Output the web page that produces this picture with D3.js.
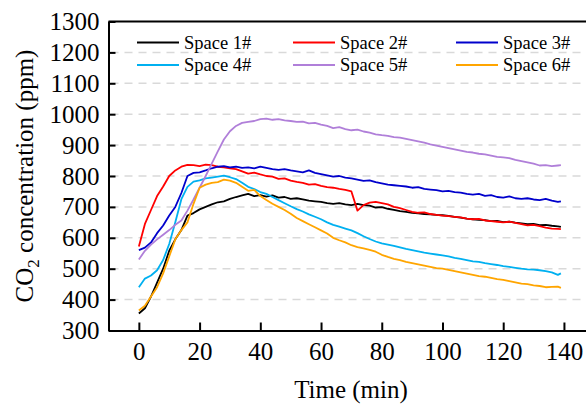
<!DOCTYPE html>
<html>
<head>
<meta charset="utf-8">
<script src="https://cdn.jsdelivr.net/npm/d3@7"></script>
<style>
  body { margin: 0; background: #fff; }
</style>
</head>
<body>
<div id="chart"></div>
<script>
// time axis (min)
const times = [0, 2, 4, 6, 8, 10, 12, 14, 16, 18, 20, 22, 24, 26, 28, 30, 32, 34, 36, 38,
  40, 42, 44, 46, 48, 50, 52, 54, 56, 58, 60, 62, 64, 66, 68, 70, 72, 74, 76, 78,
  80, 82, 84, 86, 88, 90, 92, 94, 96, 98, 100, 102, 104, 106, 108, 110, 112, 114, 116, 118,
  120, 122, 124, 126, 128, 130, 132, 134, 136, 138, 139];

const space1 = [355, 372, 410, 455, 500, 558, 595, 625, 672, 680, 692, 700, 708, 715, 718, 726, 732, 737, 742, 735,
  738, 733, 737, 730, 732, 726, 728, 724, 720, 718, 716, 712, 710, 712, 708, 706, 710, 706, 704, 698,
  699, 694, 690, 686, 684, 681, 679, 677, 676, 674, 673, 671, 668, 665, 662, 660, 658, 657, 654, 655,
  651, 652, 649, 647, 644, 645, 641, 642, 639, 637, 635];

const space2 = [572, 645, 690, 735, 766, 800, 818, 830, 836, 835, 832, 837, 835, 830, 828, 825, 822, 815, 808, 811,
  805, 800, 798, 791, 792, 785, 781, 778, 772, 774, 768, 764, 762, 758, 755, 750, 688, 706, 714, 716,
  712, 708, 700, 696, 690, 684, 681, 682, 677, 674, 672, 670, 668, 666, 662, 660, 661, 656, 654, 652,
  650, 652, 648, 644, 640, 642, 638, 633, 630, 629, 628];

const space3 = [560, 568, 585, 615, 640, 672, 700, 745, 800, 810, 812, 818, 825, 830, 832, 828, 830, 826, 828, 825,
  830, 826, 822, 820, 822, 818, 815, 812, 818, 810, 806, 802, 798, 800, 795, 792, 788, 784, 786, 780,
  776, 772, 770, 768, 766, 762, 764, 758, 756, 754, 750, 752, 748, 746, 742, 740, 742, 736, 738, 732,
  730, 734, 728, 726, 728, 724, 722, 726, 720, 716, 718];

const space4 = [440, 468, 478, 495, 528, 580, 650, 725, 765, 782, 786, 792, 795, 798, 801, 796, 790, 778, 765, 758,
  748, 742, 732, 722, 712, 702, 693, 685, 676, 668, 660, 650, 642, 636, 630, 624, 615, 605, 596, 588,
  582, 578, 574, 569, 564, 560, 556, 552, 549, 546, 543, 540, 535, 532, 528, 524, 522, 518, 515, 512,
  508, 506, 503, 500, 498, 497, 495, 492, 488, 480, 485];

const space5 = [530, 558, 578, 595, 610, 625, 642, 656, 688, 724, 762, 800, 840, 880, 918, 945, 962, 972, 975, 978,
  984, 986, 982, 984, 980, 978, 975, 976, 970, 972, 966, 962, 955, 958, 952, 948, 950, 944, 940, 935,
  932, 930, 926, 924, 920, 916, 912, 908, 902, 898, 894, 890, 886, 882, 878, 876, 872, 870, 866, 862,
  860, 858, 852, 848, 844, 840, 834, 835, 832, 834, 835];

const space6 = [365, 380, 410, 440, 485, 540, 595, 625, 650, 710, 762, 772, 778, 780, 788, 785, 778, 765, 752, 755,
  735, 722, 710, 700, 690, 678, 664, 654, 644, 634, 624, 614, 600, 592, 585, 576, 570, 566, 561, 555,
  545, 538, 532, 528, 522, 518, 514, 510, 506, 502, 500, 496, 492, 488, 484, 480, 476, 474, 470, 466,
  464, 460, 456, 452, 450, 446, 444, 440, 441, 442, 438];

const seriesNames = ["Space 1#", "Space 2#", "Space 3#", "Space 4#", "Space 5#", "Space 6#"];
const seriesColors = ["#000000", "#ff0000", "#0000cc", "#00b0f0", "#b07fd9", "#ffa500"];
const seriesValues = [space1, space2, space3, space4, space5, space6];

const xTicks = [0, 20, 40, 60, 80, 100, 120, 140];
const yTicks = [300, 400, 500, 600, 700, 800, 900, 1000, 1100, 1200, 1300];
const gridValues = [400, 500, 600, 700, 800, 900, 1000, 1100, 1200];

var width = 586;
var height = 407;
var serif = "Liberation Serif";

/* Scale */
var xScale = d3.scaleLinear().domain([-10, 150]).range([108.5, 594.3]);
var yScale = d3.scaleLinear().domain([300, 1300]).range([330.5, 21.5]);

const svg = d3.select("#chart")
  .append("svg")
  .attr("width", width)
  .attr("height", height);

/* grid */
svg.append("g")
  .selectAll("line")
  .data(gridValues)
  .enter()
  .append("line")
  .attr("x1", xScale(-10))
  .attr("x2", xScale(150))
  .attr("y1", d => yScale(d))
  .attr("y2", d => yScale(d))
  .attr("stroke", "#d9d9d9")
  .attr("stroke-width", 1.5)
  .attr("stroke-dasharray", "8,6")
  .attr("stroke-dashoffset", -16);

/* lines */
var line = d3.line()
  .x((d, i) => xScale(times[i]))
  .y(d => yScale(d));

svg.append("g")
  .attr("fill", "none")
  .selectAll("path")
  .data(seriesValues)
  .enter()
  .append("path")
  .attr("d", d => line(d))
  .attr("stroke", (d, i) => seriesColors[i])
  .attr("stroke-width", 1.8)
  .attr("stroke-linejoin", "round");

/* frame top + right */
svg.append("path")
  .attr("d", `M${xScale(-10)},${yScale(1300)}H${xScale(150)}V${yScale(300)}`)
  .attr("fill", "none")
  .attr("stroke", "#000")
  .attr("stroke-width", 2);

/* axes */
var xAxis = d3.axisBottom(xScale).tickValues(xTicks).tickFormat(d3.format("d"))
  .tickSizeInner(-8).tickSizeOuter(0).tickPadding(12);
var yAxis = d3.axisLeft(yScale).tickValues(yTicks).tickFormat(d3.format("d"))
  .tickSizeInner(-7).tickSizeOuter(0).tickPadding(9);

var gx = svg.append("g")
  .attr("transform", `translate(0, ${yScale(300)})`)
  .call(xAxis);

var gy = svg.append("g")
  .attr("transform", `translate(${xScale(-10)}, 0)`)
  .call(yAxis);

[gx, gy].forEach(g => {
  g.attr("font-family", null).attr("font-size", null);
  g.select(".domain").attr("stroke", "#000").attr("stroke-width", 2);
  g.selectAll(".tick line").attr("stroke", "#000").attr("stroke-width", 2);
  g.selectAll(".tick text")
    .attr("fill", "#000")
    .attr("font-family", serif)
    .attr("font-size", 25);
});

/* axis titles */
svg.append("text")
  .attr("x", 351)
  .attr("y", 398)
  .attr("text-anchor", "middle")
  .attr("font-family", serif)
  .attr("font-size", 25)
  .text("Time (min)");

var yt = svg.append("text")
  .attr("transform", "translate(33, 176) rotate(-90)")
  .attr("text-anchor", "middle")
  .attr("font-family", serif)
  .attr("font-size", 25);
yt.append("tspan").text("CO");
yt.append("tspan").attr("dy", 6).attr("font-size", 17).text("2");
yt.append("tspan").attr("dy", -6).text(" concentration (ppm)");

/* legend */
const legendX = [137, 293, 456];
const legendY = [42.5, 65];
const legend = svg.append("g")
  .selectAll("g")
  .data(seriesNames)
  .enter()
  .append("g")
  .attr("transform", (d, i) => `translate(${legendX[i % 3]}, ${legendY[Math.floor(i / 3)]})`);

legend.append("line")
  .attr("x1", 0)
  .attr("x2", 42)
  .attr("stroke", (d, i) => seriesColors[i])
  .attr("stroke-width", 2);

legend.append("text")
  .attr("x", 47)
  .attr("y", 6)
  .attr("font-family", serif)
  .attr("font-size", 18.5)
  .text(d => d);
</script>
</body>
</html>
